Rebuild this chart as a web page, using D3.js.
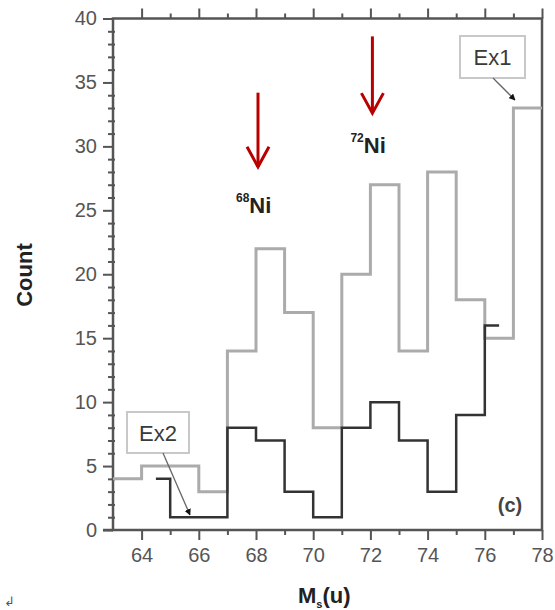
<!DOCTYPE html>
<html>
<head>
<meta charset="utf-8">
<script src="https://cdn.jsdelivr.net/npm/d3@7"></script>
<style>
  html, body { margin: 0; padding: 0; background: #fff; }
  svg { display: block; }
</style>
</head>
<body>
<svg id="chart" width="555" height="610"></svg>
<script>
// Mass bins (bin edges) and counts for the two experiments
const ex1Edges = [63, 64, 65, 66, 67, 68, 69, 70, 71, 72, 73, 74, 75, 76, 77, 78];
const ex1Counts = [4, 5, 5, 3, 14, 22, 17, 8, 20, 27, 14, 28, 18, 15, 33];
const ex2Edges = [64.5, 65, 66, 67, 68, 69, 70, 71, 72, 73, 74, 75, 76, 76.5];
const ex2Counts = [4, 1, 1, 8, 7, 3, 1, 8, 10, 7, 3, 9, 16];

const xMajorTicks = [64, 66, 68, 70, 72, 74, 76, 78];
const yMajorTicks = [0, 5, 10, 15, 20, 25, 30, 35, 40];

// Isotope markers
const isotopes = [
  { mass: 68, sup: "68", name: "Ni", arrowTop: 34.2, arrowTip: 28.4, labelY: 24.8 },
  { mass: 72, sup: "72", name: "Ni", arrowTop: 38.6, arrowTip: 32.6, labelY: 29.5 }
];

const svg = d3.select("#chart");
const axisColor = "#555";
const textColor = "#555";

const x = d3.scaleLinear().domain([63, 78]).range([113, 542]);
const y = d3.scaleLinear().domain([0, 40]).range([530, 18.5]);

// ---- frame and axes ----
const gx = svg.append("g").attr("transform", `translate(0,${y(0)})`)
  .call(d3.axisBottom(x).tickValues(xMajorTicks).tickSize(10).tickPadding(8).tickFormat(d3.format("d")));
const gxMinor = svg.append("g").attr("transform", `translate(0,${y(0)})`)
  .call(d3.axisBottom(x).tickValues(d3.range(65, 78, 2)).tickSize(5).tickFormat(""));
const gxTop = svg.append("g").attr("transform", `translate(0,${y(40)})`)
  .call(d3.axisTop(x).tickValues(xMajorTicks).tickSize(10).tickFormat(""));
const gxTopMinor = svg.append("g").attr("transform", `translate(0,${y(40)})`)
  .call(d3.axisTop(x).tickValues(d3.range(65, 78, 2)).tickSize(5).tickFormat(""));

const gy = svg.append("g").attr("transform", `translate(${x(63)},0)`)
  .call(d3.axisLeft(y).tickValues(yMajorTicks).tickSize(10).tickPadding(6).tickFormat(d3.format("d")));
const gyMinor = svg.append("g").attr("transform", `translate(${x(63) + 2},0)`)
  .call(d3.axisLeft(y).tickValues(d3.range(1, 40).filter(v => v % 5 !== 0)).tickSize(7).tickFormat(""));

[gx, gxMinor, gxTop, gxTopMinor, gy, gyMinor].forEach(g => {
  g.select(".domain").remove();
  g.selectAll(".tick line").attr("stroke", axisColor).attr("stroke-width", 2);
  g.selectAll(".tick text")
    .attr("fill", textColor)
    .style("font-family", "Liberation Sans, Arial, sans-serif")
    .style("font-size", "20px");
});

// plot frame
svg.append("rect")
  .attr("x", x(63)).attr("y", y(40))
  .attr("width", x(78) - x(63)).attr("height", y(0) - y(40))
  .attr("fill", "none").attr("stroke", axisColor).attr("stroke-width", 2.5);
// axis lines continue through the outer major ticks
svg.append("line").attr("x1", x(63) - 10).attr("x2", x(63)).attr("y1", y(0)).attr("y2", y(0))
  .attr("stroke", axisColor).attr("stroke-width", 2.5);

// ---- histograms ----
function stepPoints(edges, counts) {
  const pts = counts.map((c, i) => [edges[i], c]);
  pts.push([edges[edges.length - 1], counts[counts.length - 1]]);
  return pts;
}
const stepLine = d3.line().x(d => x(d[0])).y(d => y(d[1])).curve(d3.curveStepAfter);

svg.append("path")
  .attr("d", stepLine(stepPoints(ex1Edges, ex1Counts)))
  .attr("fill", "none").attr("stroke", "#ababab").attr("stroke-width", 3);
svg.append("path")
  .attr("d", stepLine(stepPoints(ex2Edges, ex2Counts)))
  .attr("fill", "none").attr("stroke", "#333").attr("stroke-width", 2.5);

// ---- callout boxes with pointers ----
const defs = svg.append("defs");
defs.append("marker")
  .attr("id", "tip").attr("viewBox", "0 0 10 10").attr("refX", 9).attr("refY", 5)
  .attr("markerWidth", 5).attr("markerHeight", 5).attr("orient", "auto")
  .append("path").attr("d", "M0,0 L10,5 L0,10 z").attr("fill", "#111");

function callout(label, bx, by, bw, bh, from, to) {
  svg.append("rect").attr("x", bx).attr("y", by).attr("width", bw).attr("height", bh)
    .attr("fill", "#fff").attr("stroke", "#c8c8c8").attr("stroke-width", 2);
  svg.append("text").attr("x", bx + bw / 2).attr("y", by + bh / 2 + 8)
    .attr("text-anchor", "middle").attr("fill", "#3a3a3a")
    .style("font-family", "Liberation Sans, Arial, sans-serif").style("font-size", "22px")
    .text(label);
  svg.append("line")
    .attr("x1", from[0]).attr("y1", from[1]).attr("x2", to[0]).attr("y2", to[1])
    .attr("stroke", "#666").attr("stroke-width", 1.3).attr("marker-end", "url(#tip)");
}
callout("Ex1", 460, 36, 65, 42, [493, 78], [515, 100]);
callout("Ex2", 127, 412, 62, 41, [163, 453], [190, 515]);

// ---- isotope arrows and labels ----
const red = "#b80000";
isotopes.forEach(d => {
  const cx = x(d.mass) + 2;
  const g = svg.append("g");
  g.append("line").attr("x1", cx).attr("x2", cx).attr("y1", y(d.arrowTop)).attr("y2", y(d.arrowTip))
    .attr("stroke", red).attr("stroke-width", 3);
  g.append("path")
    .attr("d", `M${cx - 11},${y(d.arrowTip) - 20} L${cx},${y(d.arrowTip)} L${cx + 11},${y(d.arrowTip) - 20}`)
    .attr("fill", "none").attr("stroke", red).attr("stroke-width", 3);
  const t = svg.append("text").attr("x", cx - 22).attr("y", y(d.labelY))
    .attr("fill", "#222").style("font-family", "Liberation Sans, Arial, sans-serif")
    .style("font-weight", "bold");
  t.append("tspan").attr("dy", -11).style("font-size", "12px").text(d.sup);
  t.append("tspan").attr("dy", 11).style("font-size", "22px").text(d.name);
});

// panel tag
svg.append("text").attr("x", 510).attr("y", 512).attr("text-anchor", "middle")
  .attr("fill", "#444").style("font-family", "Liberation Sans, Arial, sans-serif")
  .style("font-size", "20px").style("font-weight", "bold").text("(c)");

// ---- axis titles ----
svg.append("text")
  .attr("transform", `translate(32,275) rotate(-90)`)
  .attr("text-anchor", "middle").attr("fill", "#222")
  .style("font-family", "Liberation Sans, Arial, sans-serif")
  .style("font-size", "22px").style("font-weight", "bold").text("Count");

const xt = svg.append("text").attr("x", 298).attr("y", 603)
  .attr("fill", "#222").style("font-family", "Liberation Sans, Arial, sans-serif")
  .style("font-size", "22px").style("font-weight", "bold");
xt.append("tspan").text("M");
xt.append("tspan").attr("dy", 5).style("font-size", "11px").text("s");
xt.append("tspan").attr("dy", -5).text("(u)");

svg.append("text").attr("x", 4).attr("y", 606).attr("fill", "#555")
  .style("font-family", "DejaVu Sans, sans-serif").style("font-size", "13px").text("↲");
</script>
</body>
</html>
